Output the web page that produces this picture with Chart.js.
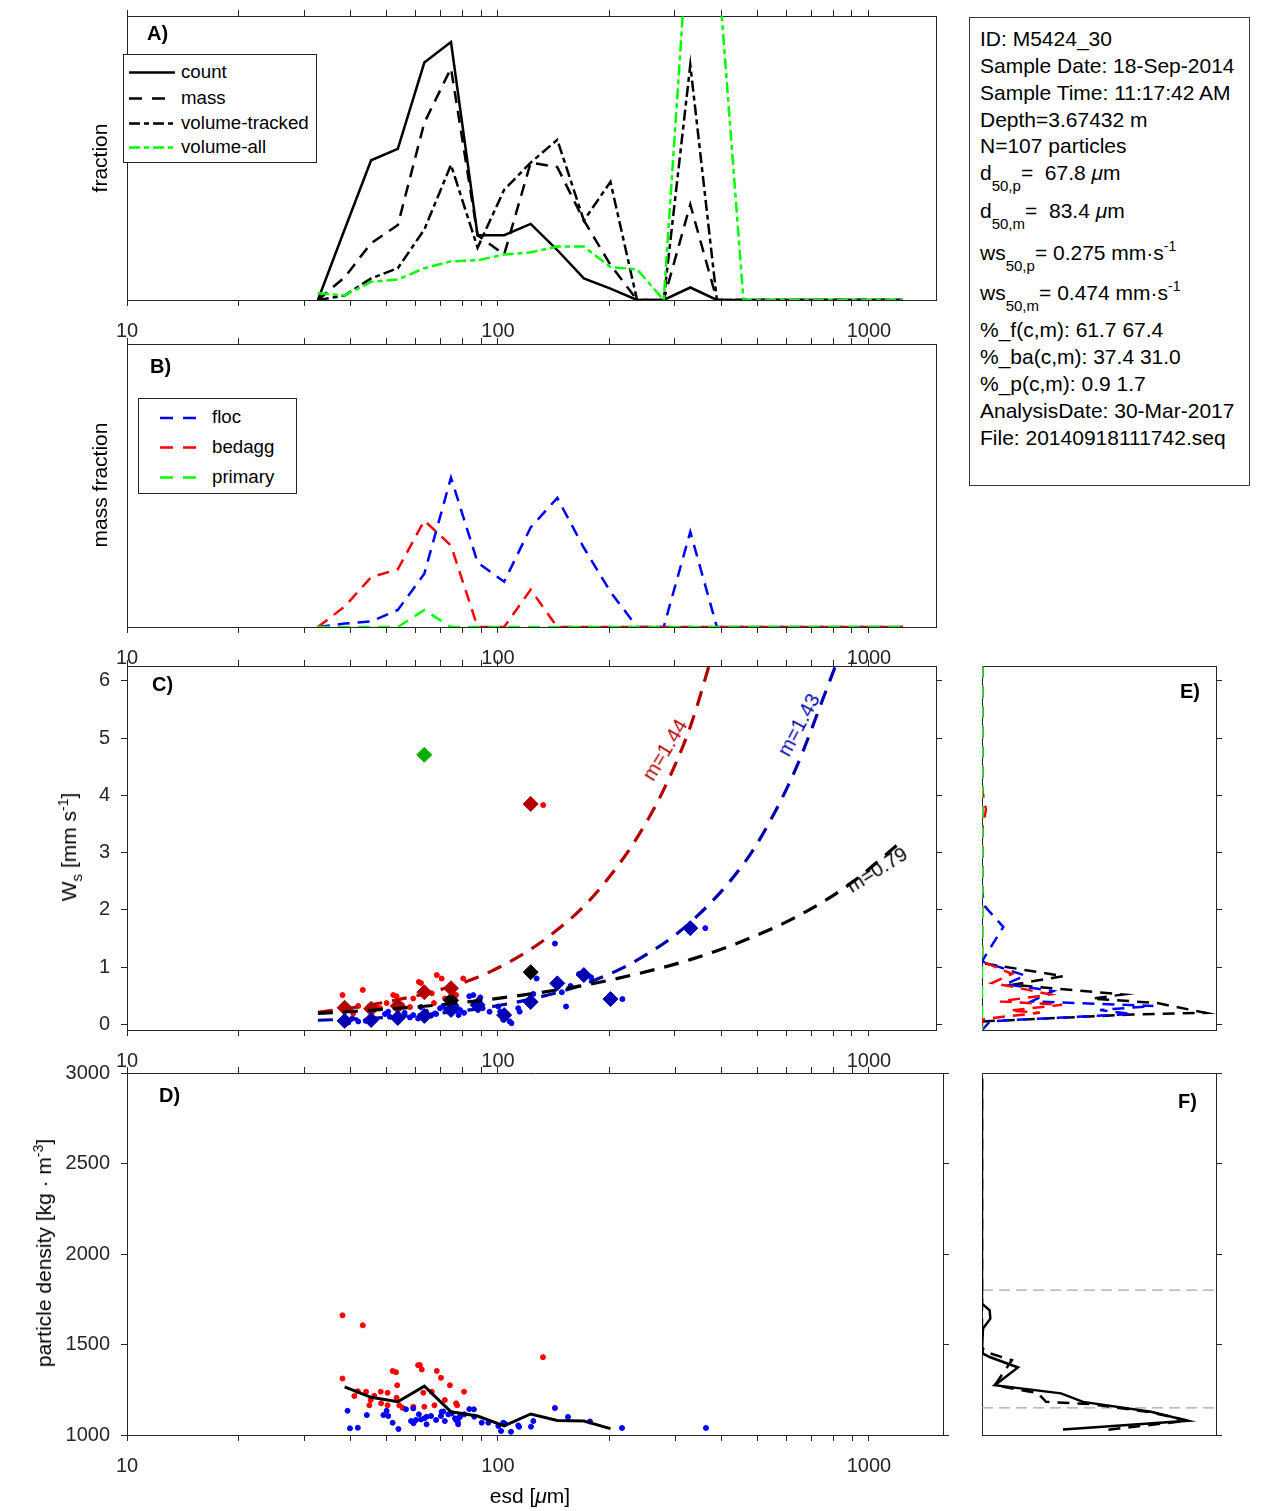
<!DOCTYPE html>
<html>
<head>
<meta charset="utf-8">
<script src="https://cdn.jsdelivr.net/npm/chart.js@4.4.1/dist/chart.umd.min.js"></script>
<style>
  body { margin: 0; background: #fff; width: 1270px; height: 1511px; position: relative; overflow: hidden;
         font-family: "Liberation Sans", Arial, Helvetica, sans-serif; color: #000; }
  canvas { position: absolute; }
  .t { position: absolute; white-space: nowrap; font-size: 21px; line-height: 21px; }
  .rot { position: absolute; white-space: nowrap; font-size: 21px; line-height: 21px;
         transform: translate(-50%, -50%) rotate(-90deg); }
  .mid { position: absolute; white-space: nowrap; font-size: 21px; line-height: 21px;
         transform: translate(-50%, -50%); }
  .lbl { position: absolute; font-weight: bold; font-size: 20px; line-height: 20px; }
  .sub { position: relative; top: 11px; font-size: 15px; }
  .sup { position: relative; top: -9px; font-size: 14px; }
  .legend { position: absolute; background: #fff; border: 1px solid #262626; box-sizing: border-box; }
  .legend div { position: absolute; font-size: 18.7px; line-height: 20px; white-space: nowrap; }
  .info { position: absolute; left: 969px; top: 17px; width: 281px; height: 469px;
          border: 1px solid #3a3a3a; box-sizing: border-box; }
</style>
</head>
<body>
<canvas id="chartA"></canvas>
<canvas id="chartB"></canvas>
<canvas id="chartC"></canvas>
<canvas id="chartD"></canvas>
<canvas id="chartE"></canvas>
<canvas id="chartF"></canvas>

<!-- panel letters -->
<div class="lbl" style="left:147px;top:23px">A)</div>
<div class="lbl" style="left:150px;top:356px">B)</div>
<div class="lbl" style="left:152px;top:674px">C)</div>
<div class="lbl" style="left:159px;top:1085px">D)</div>
<div class="lbl" style="left:1180px;top:681px">E)</div>
<div class="lbl" style="left:1178px;top:1091px">F)</div>

<!-- axis titles -->
<div class="rot" style="left:99px;top:158px">fraction</div>
<div class="rot" style="left:99px;top:485px">mass fraction</div>
<div class="rot" style="left:70px;top:847px">W<span class="sub" style="top:6px">s</span> [mm s<span class="sup" style="top:-8px">-1</span>]</div>
<div class="rot" style="left:45px;top:1253px">particle density [kg · m<span class="sup" style="top:-8px">-3</span>]</div>
<div class="mid" style="left:530px;top:1495px">esd [<i>μ</i>m]</div>

<!-- fit labels in C -->
<div class="mid" style="left:665px;top:750px;color:#b30000;font-size:20px;transform:translate(-50%,-50%) rotate(-59deg)">m=1.44</div>
<div class="mid" style="left:799px;top:725px;color:#0000b3;font-size:20px;transform:translate(-50%,-50%) rotate(-62deg)">m=1.43</div>
<div class="mid" style="left:877px;top:870px;color:#000;font-size:20px;transform:translate(-50%,-50%) rotate(-32deg)">m=0.79</div>

<!-- legend A -->
<div class="legend" style="left:123px;top:54px;width:194px;height:109px">
  <svg width="194" height="109" style="position:absolute;left:0;top:0">
    <line x1="5" y1="17.5" x2="51" y2="17.5" stroke="#000" stroke-width="2.5"/>
    <line x1="5" y1="43.5" x2="51" y2="43.5" stroke="#000" stroke-width="2.5" stroke-dasharray="13 10"/>
    <line x1="5" y1="68.5" x2="51" y2="68.5" stroke="#000" stroke-width="2.5" stroke-dasharray="11 4 5 4"/>
    <line x1="5" y1="92.5" x2="51" y2="92.5" stroke="#00ff00" stroke-width="2.5" stroke-dasharray="11 4 5 4"/>
  </svg>
  <div style="left:57px;top:7px">count</div>
  <div style="left:57px;top:33px">mass</div>
  <div style="left:57px;top:58px">volume-tracked</div>
  <div style="left:57px;top:82px">volume-all</div>
</div>

<!-- legend B -->
<div class="legend" style="left:138px;top:398px;width:159px;height:96px">
  <svg width="159" height="96" style="position:absolute;left:0;top:0">
    <line x1="21" y1="19" x2="59" y2="19" stroke="#0000ff" stroke-width="2.5" stroke-dasharray="13 10"/>
    <line x1="21" y1="48.5" x2="59" y2="48.5" stroke="#ff0000" stroke-width="2.5" stroke-dasharray="13 10"/>
    <line x1="21" y1="78.5" x2="59" y2="78.5" stroke="#00ff00" stroke-width="2.5" stroke-dasharray="13 10"/>
  </svg>
  <div style="left:73px;top:8px">floc</div>
  <div style="left:73px;top:37.5px">bedagg</div>
  <div style="left:73px;top:67.5px">primary</div>
</div>

<!-- sample info -->
<div class="info"></div>
<div class="t" style="left:980px;top:28px">ID: M5424_30</div>
<div class="t" style="left:980px;top:55px">Sample Date: 18-Sep-2014</div>
<div class="t" style="left:980px;top:82px">Sample Time: 11:17:42 AM</div>
<div class="t" style="left:980px;top:109px">Depth=3.67432 m</div>
<div class="t" style="left:980px;top:135px">N=107 particles</div>
<div class="t" style="left:980px;top:162px">d<span class="sub">50,p</span>=&nbsp; 67.8 <i>μ</i>m</div>
<div class="t" style="left:980px;top:200px">d<span class="sub">50,m</span>=&nbsp; 83.4 <i>μ</i>m</div>
<div class="t" style="left:980px;top:242px">ws<span class="sub">50,p</span>= 0.275 mm·s<span class="sup">-1</span></div>
<div class="t" style="left:980px;top:282px">ws<span class="sub">50,m</span>= 0.474 mm·s<span class="sup">-1</span></div>
<div class="t" style="left:980px;top:319px">%_f(c,m): 61.7 67.4</div>
<div class="t" style="left:980px;top:346px">%_ba(c,m): 37.4 31.0</div>
<div class="t" style="left:980px;top:373px">%_p(c,m): 0.9 1.7</div>
<div class="t" style="left:980px;top:400px">AnalysisDate: 30-Mar-2017</div>
<div class="t" style="left:980px;top:427px">File: 20140918111742.seq</div>

<script>
// ── Data ───────────────────────────────────────────────────────────
var xTickValues = [10, 20, 30, 40, 50, 60, 70, 80, 90, 100, 200, 300, 400, 500, 600, 700, 800, 900, 1000];
var xTickLabels = [10, 100, 1000];
var wsTicks = [0, 1, 2, 3, 4, 5, 6];
var rhoTicks = [1000, 1500, 2000, 2500, 3000];

// size bin centres (esd, um)
var esdBins = [32.7, 38.6, 45.5, 53.7, 63.3, 74.7, 88.1, 103.9, 122.5, 144.5, 170.4, 201.0,
               237.1, 279.7, 329.9, 389.1, 458.9, 541.3, 638.4, 753.0, 888.2, 1047.6, 1235.7];

// A) size distributions
var countFrac      = [0, .062, .123, .133, .209, .227, .057, .057, .067, .044, .019, .010, 0, 0, .011, 0, 0, 0, 0, 0, 0, 0, 0];
var massFrac       = [0, .020, .050, .066, .156, .204, .057, .040, .121, .117, .070, .031, 0, 0, .084, 0, 0, 0, 0, 0, 0, 0, 0];
var volTrackedFrac = [0, .004, .019, .028, .062, .119, .046, .097, .121, .141, .070, .104, 0, 0, .207, 0, 0, 0, 0, 0, 0, 0, 0];
var volAllFrac     = [.006, .004, .016, .018, .028, .034, .035, .040, .042, .047, .047, .029, .027, 0, .350, .306, 0, 0, 0, 0, 0, 0, 0];

// B) mass fraction by class
var flocFrac    = [0, .003, .005, .015, .047, .132, .057, .040, .088, .114, .070, .031, 0, 0, .084, 0, 0, 0, 0, 0, 0, 0, 0];
var bedaggFrac  = [0, .018, .044, .051, .094, .072, 0, 0, .033, 0, 0, 0, 0, 0, 0, 0, 0, 0, 0, 0, 0, 0, 0];
var primaryFrac = [0, 0, 0, 0, .015, 0, 0, 0, 0, 0, 0, 0, 0, 0, 0, 0, 0, 0, 0, 0, 0, 0, 0];

// C) settling velocity (mm/s)
var flocMedEsd = [38.6, 45.5, 53.7, 63.3, 74.7, 88.1, 103.9, 122.5, 144.5, 170.4, 201.0, 329.9];
var flocMedWs  = [0.06, 0.075, 0.11, 0.145, 0.25, 0.34, 0.16, 0.39, 0.715, 0.86, 0.44, 1.68];
var bedaggMedEsd = [38.6, 45.5, 53.7, 63.3, 74.7, 122.5];
var bedaggMedWs  = [0.29, 0.27, 0.32, 0.56, 0.63, 3.85];
var primaryMedEsd = [63.3];
var primaryMedWs  = [4.71];
var allMedEsd = [74.7, 122.5];
var allMedWs  = [0.42, 0.91];

var redFitEsd = [32.7, 38.6, 45.5, 53.7, 63.3, 74.7, 88.1, 103.9, 122.5, 144.5, 170.4, 201.0, 237.1, 279.7, 329.9, 380];
var redFitWs  = [0.21, 0.27, 0.34, 0.43, 0.53, 0.66, 0.82, 1.04, 1.31, 1.65, 2.06, 2.60, 3.26, 4.10, 5.20, 6.50];
var blueFitEsd = [32.7, 45.5, 63.3, 88.1, 122.5, 170.4, 237.1, 329.9, 458.9, 541.3, 638.4, 753.0, 850];
var blueFitWs  = [0.07, 0.105, 0.17, 0.27, 0.44, 0.70, 1.12, 1.78, 2.80, 3.55, 4.50, 5.70, 6.60];
var blackFitEsd = [32.7, 45.5, 63.3, 88.1, 122.5, 170.4, 237.1, 329.9, 458.9, 638.4, 888.2, 1235.7];
var blackFitWs  = [0.19, 0.245, 0.315, 0.41, 0.53, 0.68, 0.88, 1.13, 1.46, 1.88, 2.45, 3.22];

// single particles [esd, ws]
var wsFlocDots = [[39.5, 0.03], [42.0, 0.05], [46.6, 0.08], [49.6, 0.18], [50.6, 0.22], [51.1, 0.13], [53.9, 0.16],
  [56.0, 0.20], [57.9, 0.12], [59.1, 0.16], [60.9, 0.10], [64.0, 0.22], [66.0, 0.15], [68.1, 0.18], [69.8, 0.28],
  [71.2, 0.32], [72.6, 0.25], [75.0, 0.22], [77.3, 0.31], [79.0, 0.25], [78.3, 0.16], [83.7, 0.49], [85.8, 0.51],
  [86.5, 0.37], [88.3, 0.25], [89.6, 0.47], [90.9, 0.28], [94.9, 0.22], [100.2, 0.31], [101.4, 0.22], [103.3, 0.08],
  [107.5, 0.05], [108.7, 0.02], [113.4, 0.28], [114.4, 0.22], [124.5, 0.53], [127.1, 0.80], [142.4, 1.41],
  [148.6, 0.56], [152.6, 0.31], [156.9, 0.67], [165.4, 0.88], [178.2, 0.82], [216.5, 0.44], [362.1, 1.68],
  [40.5, 0.10], [44.0, 0.06], [62.0, 0.30], [67.6, 0.19], [73.5, 0.40], [76.0, 0.35], [81.0, 0.20]];
var wsBedaggDots = [[38.1, 0.51], [43.2, 0.60], [40.7, 0.19], [38.7, 0.30], [45.2, 0.27], [48.1, 0.28], [50.1, 0.37],
  [52.2, 0.51], [53.3, 0.49], [55.0, 0.34], [57.9, 0.30], [59.1, 0.45], [61.2, 0.74], [62.0, 0.72], [63.2, 0.52],
  [66.3, 0.54], [67.2, 0.37], [68.4, 0.86], [70.5, 0.80], [74.7, 0.62], [75.5, 0.55], [77.1, 0.51], [80.6, 0.80],
  [132.4, 3.83], [40.0, 0.25], [47.0, 0.30], [42.0, 0.32], [72.0, 0.45]];

// D) particle density (kg/m3), single particles [esd, rho]
var rhoFlocDots = [[39.3, 1134], [39.9, 1037], [41.9, 1040], [44.3, 1110], [49.1, 1110], [50.1, 1134], [50.6, 1105],
  [52.0, 1068], [53.9, 1033], [56.5, 1142], [58.3, 1077], [59.1, 1147], [59.2, 1065], [60.1, 1083], [61.2, 1114],
  [62.0, 1086], [63.3, 1092], [64.2, 1101], [64.2, 1059], [66.0, 1105], [68.1, 1083], [70.2, 1105], [70.5, 1128],
  [71.2, 1130], [71.9, 1077], [73.5, 1114], [75.0, 1119], [76.6, 1092], [77.1, 1083], [77.9, 1073], [78.1, 1059],
  [78.5, 1095], [79.0, 1101], [81.1, 1114], [83.7, 1143], [86.1, 1142], [86.3, 1101], [90.4, 1068], [94.2, 1068],
  [100.2, 1050], [101.9, 1022], [103.3, 1068], [104.4, 1062], [108.4, 1018], [113.4, 1053], [114.0, 1045],
  [122.7, 1046], [124.5, 1077], [142.4, 1149], [154.4, 1100], [177.0, 1075], [215.9, 1039], [363.6, 1039]];
var rhoBedaggDots = [[38.1, 1661], [43.2, 1606], [38.1, 1312], [41.0, 1215], [41.9, 1242], [44.1, 1239], [45.0, 1164],
  [45.4, 1193], [46.4, 1217], [48.3, 1239], [48.4, 1175], [50.4, 1233], [50.4, 1164], [52.0, 1354], [53.1, 1347],
  [53.5, 1275], [53.3, 1206], [54.2, 1164], [55.3, 1150], [59.1, 1156], [60.9, 1386], [61.6, 1386], [62.3, 1362],
  [62.9, 1233], [63.3, 1156], [66.3, 1239], [67.4, 1164], [68.4, 1354], [70.2, 1316], [71.9, 1193], [74.2, 1275],
  [77.1, 1175], [77.6, 1164], [81.0, 1239], [132.2, 1430]];
var rhoMeanEsd = [38.6, 45.5, 53.7, 63.3, 74.7, 88.1, 103.9, 122.5, 144.5, 170.4, 201.0];
var rhoMeanVal = [1266, 1208, 1184, 1270, 1128, 1105, 1050, 1116, 1080, 1077, 1035];

// E) mass fraction vs settling velocity
var eAllFrac  = [0, 0, .122, .045, .212, .165, .263, .335, .225, 0, 0];
var eAllWs    = [6.26, 1.07, 0.84, 0.69, 0.52, 0.45, 0.37, 0.20, 0.17, 0.05, -0.1];
var eFlocFrac = [0, 0, .005, .032, 0, .065, .035, .107, .074, .257, .177, .225, .053, .012, 0];
var eFlocWs   = [6.26, 2.30, 2.05, 1.70, 1.10, 0.85, 0.70, 0.58, 0.40, 0.32, 0.25, 0.18, 0.08, 0.05, -0.1];
var eBedaggFrac = [0, 0, .006, 0, 0, .045, .015, .053, .102, .027, .120, .042, .087, .023, 0, 0];
var eBedaggWs   = [6.26, 4.10, 3.75, 3.40, 1.10, 0.88, 0.72, 0.64, 0.52, 0.40, 0.34, 0.24, 0.20, 0.12, 0.08, -0.1];
var ePrimaryFrac = [0, 0];
var ePrimaryWs   = [6.26, -0.1];

// F) fraction vs particle density
var fCountFrac = [0, 0, .0082, .0089, .0011, 0, .0011, .0082, .0385, .0136, .0844, .108, .1805, .220, .0865];
var fCountRho  = [2970, 1726, 1689, 1643, 1588, 1487, 1450, 1431, 1373, 1275, 1230, 1183, 1128, 1079, 1031];
var fMassFrac  = [0, 0, .0032, .032, .0136, .0598, .0684, .1175, .1805, .220, .1324];
var fMassRho   = [2970, 1487, 1460, 1413, 1275, 1231, 1183, 1170, 1125, 1079, 1028];
var fGuideRho  = [1800, 1150];

// ── Helpers ────────────────────────────────────────────────────────
var INK = '#262626';
Chart.defaults.font.family = "'Liberation Sans', Arial, Helvetica, sans-serif";
Chart.defaults.color = INK;

/** Size and place a canvas, return axis thicknesses so the plot area lands on `area` */
function place(id, box, area) {
  var c = document.getElementById(id);
  c.width = box.W; c.height = box.H;
  c.style.left = box.L + 'px'; c.style.top = box.T + 'px';
  c.style.width = box.W + 'px'; c.style.height = box.H + 'px';
  return {
    canvas: c,
    left: area.l - box.L, top: area.t - box.T,
    right: box.L + box.W - area.r, bottom: box.T + box.H - area.b
  };
}

function makeAxis(o) {
  var ax = {
    type: o.type, position: o.position, min: o.min, max: o.max,
    afterFit: function (s) { if (s.isHorizontal()) s.height = o.px; else s.width = o.px; },
    grid: { drawOnChartArea: false, drawTicks: !!o.marks, tickLength: 6, color: INK, lineWidth: 1 },
    border: { display: true, color: INK, width: 1 },
    ticks: {
      display: !!o.labels, autoSkip: false, maxRotation: 0, minRotation: 0,
      padding: o.pad || 0, color: INK, font: { size: 20 },
      callback: function (v) { return (o.labelValues || []).indexOf(v) >= 0 ? String(v) : ''; }
    }
  };
  if (o.tickValues) {
    ax.afterBuildTicks = function (s) {
      s.ticks = o.tickValues.map(function (v) { return { value: v }; });
    };
  }
  return ax;
}

/** esd (log) x axes plus a linear y pair */
function esdScales(fr, xMax, yMin, yMax, yTicks) {
  return {
    x: makeAxis({ type: 'logarithmic', position: 'bottom', min: 10, max: xMax, px: fr.bottom,
                  tickValues: xTickValues, labelValues: xTickLabels, marks: true, labels: true, pad: 13 }),
    x2: makeAxis({ type: 'logarithmic', position: 'top', min: 10, max: xMax, px: fr.top,
                   tickValues: xTickValues, marks: true }),
    y: makeAxis({ type: 'linear', position: 'left', min: yMin, max: yMax, px: fr.left,
                  tickValues: yTicks, labelValues: yTicks, marks: !!yTicks, labels: !!yTicks, pad: 11 }),
    y2: makeAxis({ type: 'linear', position: 'right', min: yMin, max: yMax, px: fr.right,
                   tickValues: yTicks, marks: !!yTicks })
  };
}

/** profile panels: plain x box, ticks only on the right */
function sideScales(fr, xMax, yMin, yMax, yTicks) {
  return {
    x: makeAxis({ type: 'linear', position: 'bottom', min: 0, max: xMax, px: fr.bottom }),
    x2: makeAxis({ type: 'linear', position: 'top', min: 0, max: xMax, px: fr.top }),
    y: makeAxis({ type: 'linear', position: 'left', min: yMin, max: yMax, px: fr.left }),
    y2: makeAxis({ type: 'linear', position: 'right', min: yMin, max: yMax, px: fr.right,
                   tickValues: yTicks, marks: true })
  };
}

function pts(xs, ys) { return xs.map(function (x, i) { return { x: x, y: ys[i] }; }); }
function pairs(list) { return list.map(function (p) { return { x: p[0], y: p[1] }; }); }

function line(data, color, width, dash, smooth) {
  return {
    data: data, showLine: true, borderColor: color, backgroundColor: color,
    borderWidth: width, borderDash: dash || [], pointRadius: 0, tension: smooth ? 0.4 : 0,
    cubicInterpolationMode: smooth ? 'monotone' : 'default', xAxisID: 'x', yAxisID: 'y'
  };
}
function marks(data, color, style, r) {
  return {
    data: data, showLine: false, pointStyle: style, pointRadius: r, borderWidth: 1,
    borderColor: color, backgroundColor: color, xAxisID: 'x', yAxisID: 'y'
  };
}

function draw(fr, scales, datasets) {
  return new Chart(fr.canvas, {
    type: 'scatter',
    data: { datasets: datasets },
    options: {
      responsive: false, animation: false, devicePixelRatio: 1, events: [],
      layout: { padding: 0 },
      plugins: { legend: { display: false }, tooltip: { enabled: false } },
      scales: scales
    }
  });
}

var DASH = [12, 8];
var DASHDOT = [11, 4, 5, 4];

// ── A) size distributions ─────────────────────────────────────────
var frA = place('chartA', { L: 0, T: 0, W: 960, H: 340 }, { l: 127, t: 16, r: 936, b: 300 });
draw(frA, esdScales(frA, 1516, 0, 0.25, null), [
  line(pts(esdBins, volAllFrac), '#00ff00', 2.5, DASHDOT),
  line(pts(esdBins, volTrackedFrac), '#000', 2.5, DASHDOT),
  line(pts(esdBins, massFrac), '#000', 2.5, DASH),
  line(pts(esdBins, countFrac), '#000', 2.5)
]);

// ── B) mass fraction by class ─────────────────────────────────────
var frB = place('chartB', { L: 0, T: 320, W: 960, H: 350 }, { l: 127, t: 344, r: 936, b: 627 });
draw(frB, esdScales(frB, 1516, 0, 0.25, null), [
  line(pts(esdBins, primaryFrac), '#00ff00', 2.5, DASH),
  line(pts(esdBins, bedaggFrac), '#ff0000', 2.5, DASH),
  line(pts(esdBins, flocFrac), '#0000ff', 2.5, DASH)
]);

// ── C) settling velocity ──────────────────────────────────────────
var frC = place('chartC', { L: 0, T: 640, W: 960, H: 430 }, { l: 127, t: 666, r: 936, b: 1030 });
draw(frC, esdScales(frC, 1516, -0.1, 6.26, wsTicks), [
  line(pts(blackFitEsd, blackFitWs), '#000', 3.2, [15, 10], true),
  line(pts(blueFitEsd, blueFitWs), '#0000b3', 3.2, [15, 10], true),
  line(pts(redFitEsd, redFitWs), '#b30000', 3.2, [15, 10], true),
  marks(pts(flocMedEsd, flocMedWs), '#0000b3', 'rectRot', 7.5),
  marks(pts(bedaggMedEsd, bedaggMedWs), '#b30000', 'rectRot', 7.5),
  marks(pts(primaryMedEsd, primaryMedWs), '#00b000', 'rectRot', 7.5),
  marks(pts(allMedEsd, allMedWs), '#000', 'rectRot', 7.5),
  marks(pairs(wsFlocDots), '#0000ff', 'circle', 2.5),
  marks(pairs(wsBedaggDots), '#ff0000', 'circle', 2.5)
]);

// ── D) particle density ───────────────────────────────────────────
var frD = place('chartD', { L: 0, T: 1050, W: 960, H: 461 }, { l: 127, t: 1073, r: 943, b: 1435 });
draw(frD, esdScales(frD, 1583, 1000, 3000, rhoTicks), [
  line(pts(rhoMeanEsd, rhoMeanVal), '#000', 3),
  marks(pairs(rhoFlocDots), '#0000ff', 'circle', 2.5),
  marks(pairs(rhoBedaggDots), '#ff0000', 'circle', 2.5)
]);

// ── E) settling velocity distributions ────────────────────────────
var frE = place('chartE', { L: 960, T: 640, W: 300, H: 430 }, { l: 982, t: 666, r: 1216, b: 1030 });
draw(frE, sideScales(frE, 0.351, -0.1, 6.26, wsTicks), [
  line(pts(ePrimaryFrac, ePrimaryWs), '#00ff00', 2.5, DASH),
  line(pts(eBedaggFrac, eBedaggWs), '#ff0000', 2.5, DASH),
  line(pts(eFlocFrac, eFlocWs), '#0000ff', 2.5, DASH),
  line(pts(eAllFrac, eAllWs), '#000', 2.5, DASH)
]);

// ── F) density distributions ──────────────────────────────────────
var frF = place('chartF', { L: 960, T: 1050, W: 300, H: 430 }, { l: 982, t: 1073, r: 1216, b: 1435 });
var guides = fGuideRho.map(function (r) {
  return line(pts([0, 0.25], [r, r]), '#a6a6a6', 1.3, [11, 6]);
});
draw(frF, sideScales(frF, 0.25, 1000, 3000, rhoTicks), [
  line(pts(fCountFrac, fCountRho), '#000', 2.5),
  line(pts(fMassFrac, fMassRho), '#000', 2.5, DASH)
].concat(guides));
</script>
</body>
</html>
